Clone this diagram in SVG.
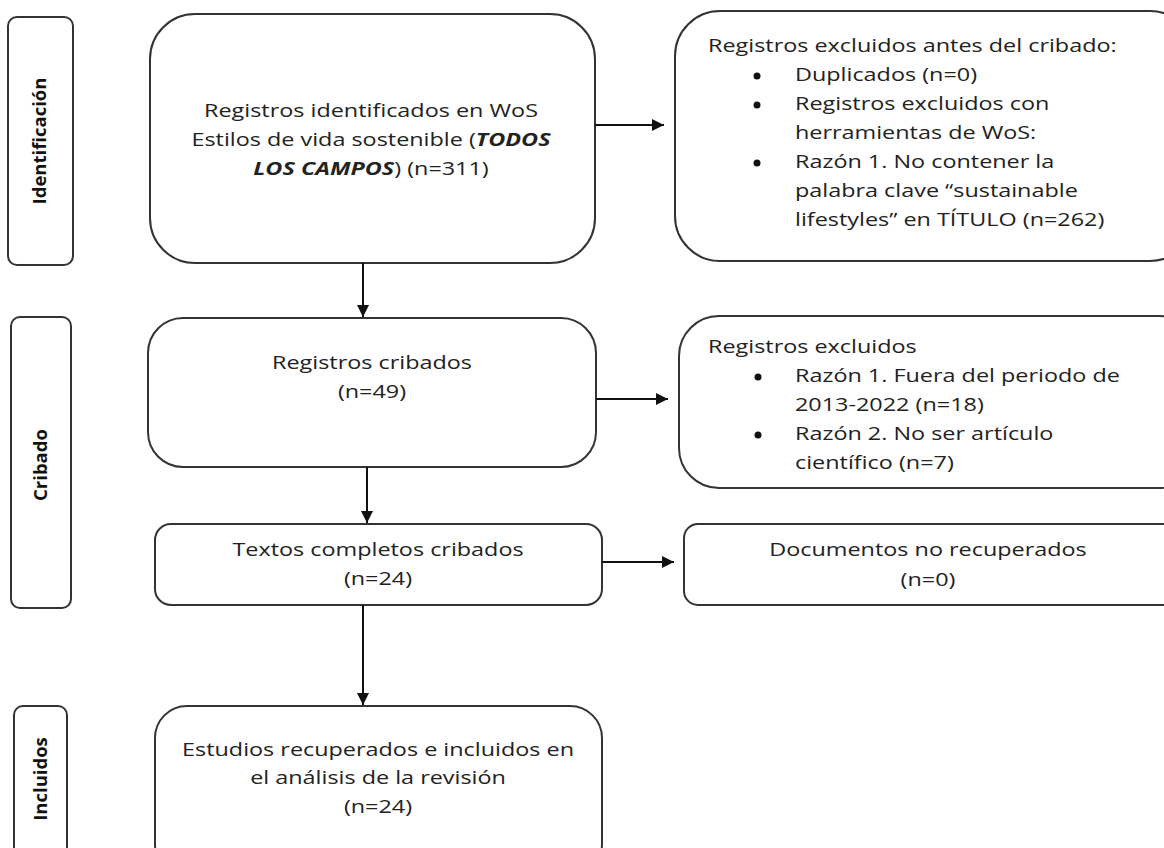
<svg xmlns="http://www.w3.org/2000/svg" width="1164" height="848" viewBox="0 0 1164 848">
<defs>
<style>
.box{fill:#fff;stroke:#333;stroke-width:2}
.t{font-family:"Open Sans","Liberation Sans",sans-serif;font-size:18px;fill:#222}
.c{text-anchor:middle}
.lab{font-family:"Open Sans","Liberation Sans",sans-serif;font-size:18.5px;font-weight:bold;fill:#111;text-anchor:middle}
.cn{stroke:#111;stroke-width:2;fill:none}
.bul{fill:#111}
</style>
<marker id="ah" viewBox="0 0 10 10" refX="10" refY="5" markerWidth="12" markerHeight="12" markerUnits="userSpaceOnUse" orient="auto">
<path d="M0,0 L10,5 L0,10 z" fill="#111"/>
</marker>
</defs>
<rect width="1164" height="848" fill="#fff"/>

<g id="lab-identificacion">
<rect class="box" x="8" y="17" width="65" height="248" rx="9"/>
<text class="lab" transform="translate(46,141) rotate(-90)">Identificación</text>
</g>
<g id="lab-cribado">
<rect class="box" x="11" y="317" width="60" height="291" rx="9"/>
<text class="lab" transform="translate(47,465) rotate(-90)">Cribado</text>
</g>
<g id="lab-incluidos">
<rect class="box" x="14" y="706" width="53" height="170" rx="9"/>
<text class="lab" transform="translate(47,779) rotate(-90)">Incluidos</text>
</g>

<g id="n-identificados">
<rect class="box" x="150" y="14" width="445" height="249" rx="45"/>
<text class="t c" transform="matrix(1.3 0 0 1 371 117)">Registros identificados en WoS</text>
<text class="t c" transform="matrix(1.3 0 0 1 371 146)">Estilos de vida sostenible (<tspan font-weight="bold" font-style="italic">TODOS</tspan></text>
<text class="t c" transform="matrix(1.3 0 0 1 371 175)"><tspan font-weight="bold" font-style="italic">LOS CAMPOS</tspan>) (n=311)</text>
</g>

<g id="n-excluidos-antes">
<rect class="box" x="675" y="11" width="520" height="250" rx="45"/>
<text class="t" transform="matrix(1.3 0 0 1 708 52)">Registros excluidos antes del cribado:</text>
<circle class="bul" cx="757" cy="76" r="3.5"/>
<text class="t" transform="matrix(1.3 0 0 1 795 81)">Duplicados (n=0)</text>
<circle class="bul" cx="757" cy="105" r="3.5"/>
<text class="t" transform="matrix(1.3 0 0 1 795 110)">Registros excluidos con</text>
<text class="t" transform="matrix(1.3 0 0 1 795 139)">herramientas de WoS:</text>
<circle class="bul" cx="757" cy="163" r="3.5"/>
<text class="t" transform="matrix(1.3 0 0 1 795 168)">Razón 1. No contener la</text>
<text class="t" transform="matrix(1.3 0 0 1 795 197)">palabra clave “sustainable</text>
<text class="t" transform="matrix(1.3 0 0 1 795 226)">lifestyles” en TÍTULO (n=262)</text>
</g>

<g id="n-cribados">
<rect class="box" x="148" y="318" width="448" height="149" rx="35"/>
<text class="t c" transform="matrix(1.3 0 0 1 372 369)">Registros cribados</text>
<text class="t c" transform="matrix(1.3 0 0 1 372 398)">(n=49)</text>
</g>

<g id="n-excluidos">
<rect class="box" x="679" y="316" width="520" height="172" rx="40"/>
<text class="t" transform="matrix(1.3 0 0 1 708 353)">Registros excluidos</text>
<circle class="bul" cx="758" cy="377" r="3.5"/>
<text class="t" transform="matrix(1.3 0 0 1 795 382)">Razón 1. Fuera del periodo de</text>
<text class="t" transform="matrix(1.3 0 0 1 795 411)">2013-2022 (n=18)</text>
<circle class="bul" cx="758" cy="435" r="3.5"/>
<text class="t" transform="matrix(1.3 0 0 1 795 440)">Razón 2. No ser artículo</text>
<text class="t" transform="matrix(1.3 0 0 1 795 469)">científico (n=7)</text>
</g>

<g id="n-textos">
<rect class="box" x="155" y="524" width="447" height="81" rx="16"/>
<text class="t c" transform="matrix(1.3 0 0 1 378 556)">Textos completos cribados</text>
<text class="t c" transform="matrix(1.3 0 0 1 378 585)">(n=24)</text>
</g>

<g id="n-documentos">
<rect class="box" x="684" y="524" width="520" height="81" rx="14"/>
<text class="t c" transform="matrix(1.3 0 0 1 928 556)">Documentos no recuperados</text>
<text class="t c" transform="matrix(1.3 0 0 1 928 586)">(n=0)</text>
</g>

<g id="n-estudios">
<rect class="box" x="155" y="706" width="447" height="170" rx="32"/>
<text class="t c" transform="matrix(1.3 0 0 1 378 756)">Estudios recuperados e incluidos en</text>
<text class="t c" transform="matrix(1.3 0 0 1 378 784)">el análisis de la revisión</text>
<text class="t c" transform="matrix(1.3 0 0 1 378 813)">(n=24)</text>
</g>

<g id="connectors">
<line class="cn" x1="595" y1="125" x2="664" y2="125" marker-end="url(#ah)"/>
<line class="cn" x1="363" y1="263" x2="363" y2="317" marker-end="url(#ah)"/>
<line class="cn" x1="596" y1="399" x2="668" y2="399" marker-end="url(#ah)"/>
<line class="cn" x1="367" y1="467" x2="367" y2="523" marker-end="url(#ah)"/>
<line class="cn" x1="602" y1="562" x2="674" y2="562" marker-end="url(#ah)"/>
<line class="cn" x1="363" y1="605" x2="363" y2="705" marker-end="url(#ah)"/>
</g>
</svg>
